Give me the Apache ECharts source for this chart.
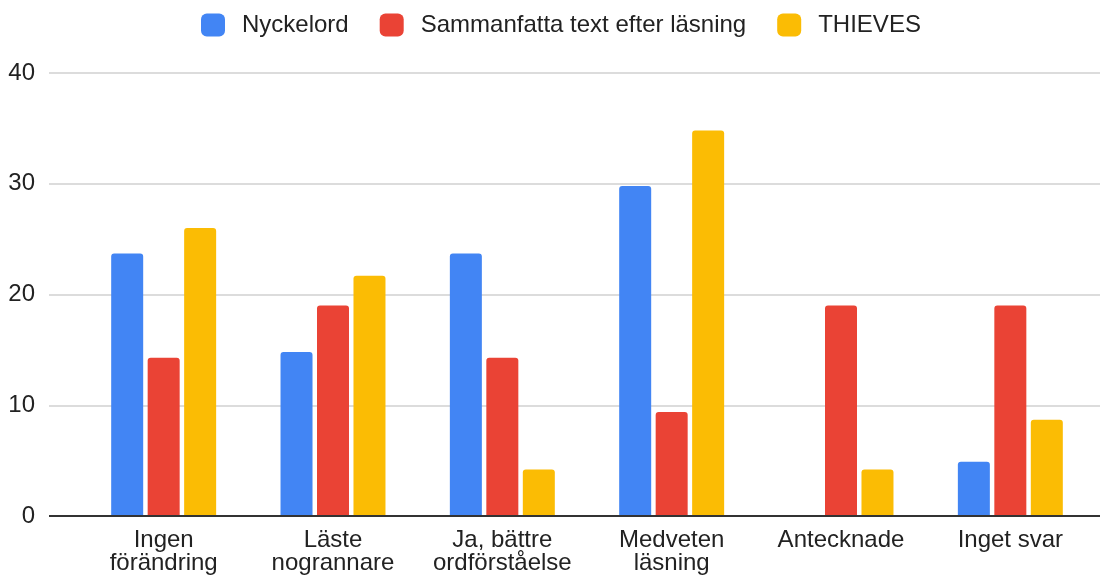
<!DOCTYPE html>
<html><head><meta charset="utf-8">
<script src="https://cdn.jsdelivr.net/npm/echarts@6/dist/echarts.min.js"></script>
<style>html,body{margin:0;padding:0;background:#fff}#c{width:1113px;height:576px}</style>
</head><body><div id="c"></div>
<script>
const categories = ['Ingen\nförändring', 'Läste\nnogrannare', 'Ja, bättre\nordförståelse', 'Medveten\nläsning', 'Antecknade', 'Inget svar'];
const seriesNames = ['Nyckelord', 'Sammanfatta text efter läsning', 'THIEVES'];
const nyckelord = [23.7, 14.8, 23.7, 29.8, 0, 4.9];
const sammanfatta = [14.3, 19.0, 14.3, 9.4, 19.0, 19.0];
const thieves = [26.0, 21.7, 4.2, 34.8, 4.2, 8.7];
const yTicks = [0, 10, 20, 30, 40];
const colors = ['#4285F4', '#EA4335', '#FBBC04'];
const font = 'Liberation Sans, Arial, sans-serif';
const chart = echarts.init(document.getElementById('c'));
const values = [nyckelord, sammanfatta, thieves];
chart.setOption({
  animation: false,
  color: colors,
  textStyle: {fontFamily: font},
  legend: {
    top: 8, left: 196, itemWidth: 24, itemHeight: 23, itemGap: 31,
    icon: 'roundRect',
    textStyle: {fontSize: 24, color: '#222', fontFamily: font, padding: [0, 0, 0, 12]},
    data: seriesNames
  },
  grid: [
    {left: 49, right: 13, top: 73, bottom: 60, outerBoundsMode: 'none', containLabel: false},
    {left: 79, right: 18, top: 73, bottom: 60, outerBoundsMode: 'none', containLabel: false}
  ],
  xAxis: [
    {gridIndex: 0, type: 'value', min: 0, max: 1, axisLine: {show: false}, axisTick: {show: false}, axisLabel: {show: false}, splitLine: {show: false}},
    {gridIndex: 1, type: 'category', data: categories,
     axisLine: {show: false}, axisTick: {show: false},
     axisLabel: {fontSize: 24, color: '#222', lineHeight: 23, margin: 13, interval: 0, fontFamily: font}}
  ],
  yAxis: [
    {gridIndex: 0, type: 'value', min: yTicks[0], max: yTicks[yTicks.length - 1], interval: 10,
     axisLine: {show: false}, axisTick: {show: false},
     axisLabel: {fontSize: 24, color: '#222', margin: 14, fontFamily: font},
     splitLine: {lineStyle: {color: '#d0d0d0', width: 1.5}}},
    {gridIndex: 1, type: 'value', min: yTicks[0], max: yTicks[yTicks.length - 1], interval: 10, show: false}
  ],
  series: [
    {type: 'line', xAxisIndex: 0, yAxisIndex: 0, data: [[0, 0], [1, 0]], symbol: 'none', silent: true,
     lineStyle: {color: '#333', width: 2}, z: 5},
  ].concat(seriesNames.map((n, i) => ({
    name: n, type: 'bar', xAxisIndex: 1, yAxisIndex: 1, data: values[i],
    barWidth: 32, barGap: '14%',
    itemStyle: {color: colors[i], borderRadius: [3, 3, 0, 0]}
  })))
});
</script></body></html>
